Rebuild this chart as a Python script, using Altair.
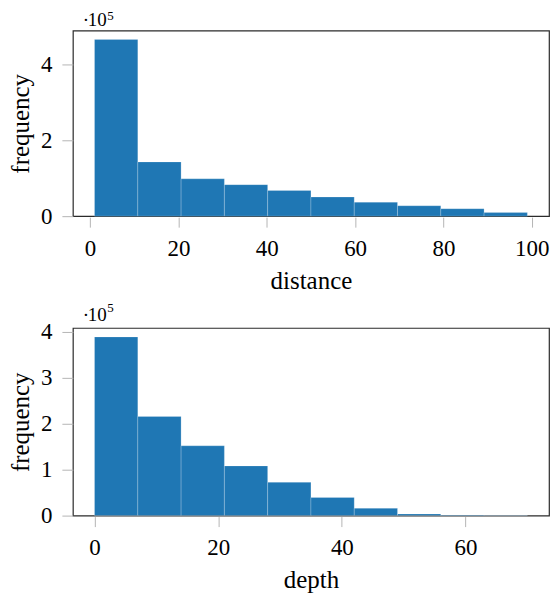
import altair as alt
import pandas as pd

# bin edges and counts
distance_edges = [1, 10.8, 20.6, 30.4, 40.2, 50, 59.8, 69.6, 79.4, 89.2, 99]
distance_counts = [467000, 143300, 98700, 83300, 67800, 50600, 36900, 27500, 19700, 9400]

depth_edges = [0, 7, 14, 21, 28, 35, 42, 49, 56, 63, 70]
depth_counts = [389000, 215800, 152000, 108200, 72400, 39400, 15800, 3600, 1400, 700]

distance_ticks = [0, 20, 40, 60, 80, 100]
depth_ticks = [0, 20, 40, 60]
distance_freq_ticks = [0, 200000, 400000]
depth_freq_ticks = [0, 100000, 200000, 300000, 400000]

SERIF = "Liberation Serif"
BLUE = "#1f77b4"


def exponent(base_y: float, sup_y: float) -> alt.LayerChart:
    # the "·10^5" multiplier written above the top-left corner of the frame
    one = pd.DataFrame({"k": [0]})
    dot = alt.Chart(one).mark_text(font=SERIF, fontSize=19, align="center", baseline="alphabetic").encode(
        x=alt.value(13), y=alt.value(base_y), text=alt.value("·")
    )
    ten = alt.Chart(one).mark_text(font=SERIF, fontSize=19, align="left", baseline="alphabetic").encode(
        x=alt.value(15), y=alt.value(base_y), text=alt.value("10")
    )
    five = alt.Chart(one).mark_text(font=SERIF, fontSize=13, align="left", baseline="alphabetic").encode(
        x=alt.value(34.5), y=alt.value(sup_y), text=alt.value("5")
    )
    return dot + ten + five


def histogram(edges, counts, x_title, x_ticks, y_ticks, x_domain, y_max, base_y, sup_y, height):
    df = pd.DataFrame({"start": edges[:-1], "end": edges[1:], "count": counts})
    bars = alt.Chart(df).mark_bar(
        color=BLUE, stroke="#ffffff", strokeWidth=0.6, strokeOpacity=0.35
    ).encode(
        x=alt.X(
            "start:Q",
            scale=alt.Scale(domain=x_domain, nice=False, zero=False),
            axis=alt.Axis(values=x_ticks, title=x_title, offset=1, tickSize=10),
        ),
        x2="end:Q",
        y=alt.Y(
            "count:Q",
            scale=alt.Scale(domain=[0, y_max], nice=False),
            axis=alt.Axis(values=y_ticks, title="frequency", labelExpr="datum.value / 100000"),
        ),
        y2=alt.datum(0),
    )
    return (bars + exponent(base_y, sup_y)).properties(width=477, height=height)


top = histogram(distance_edges, distance_counts, "distance", distance_ticks, distance_freq_ticks,
                [-3.9, 103.9], 490500, -5, -11, 186)
bottom = histogram(depth_edges, depth_counts, "depth", depth_ticks, depth_freq_ticks,
                   [-3.5, 73.5], 408500, -6.6, -16, 188)

chart = alt.vconcat(top, bottom, spacing=6).properties(
    padding={"left": 0, "top": 0, "right": 0, "bottom": 0}
).configure_view(
    stroke="#2b2b2b", strokeWidth=1.2
).configure_axis(
    domain=False,
    grid=False,
    ticks=True,
    tickColor="#b5b5b5",
    tickWidth=1,
    tickSize=11,
    labelFont=SERIF,
    labelFontSize=23,
    labelColor="#000000",
    labelPadding=10,
    titleFont=SERIF,
    titleFontSize=25,
    titleFontWeight="normal",
    titleColor="#000000",
).configure_axisY(
    titlePadding=6.5,
).configure_axisX(
    titlePadding=8.5,
)

chart.save("out.html", embed_options={"renderer": "svg", "actions": False})
